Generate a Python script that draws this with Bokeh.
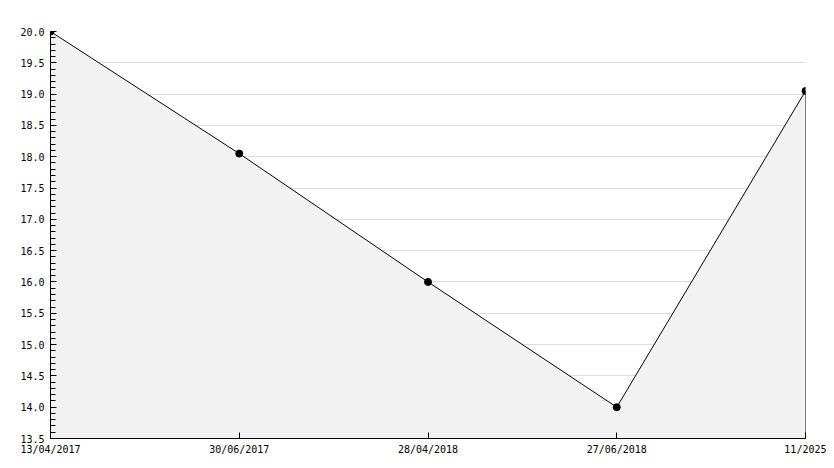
from bokeh.plotting import figure
from bokeh.models import Range1d, FixedTicker, SingleIntervalTicker, PrintfTickFormatter
from bokeh.embed import file_html
from bokeh.resources import INLINE

dates = ["13/04/2017", "30/06/2017", "28/04/2018", "27/06/2018", "11/2025"]
values = [20.0, 18.05, 16.0, 14.0, 19.05]
y_min, y_max = 13.5, 20.0

xs = list(range(len(dates)))

p = figure(width=826, height=460, output_backend="svg", toolbar_location=None,
           x_range=Range1d(0, len(dates) - 1), y_range=Range1d(y_min, y_max),
           min_border_left=50, min_border_right=21, min_border_top=31, min_border_bottom=22)
p.outline_line_color = None
p.background_fill_color = "white"

# area
px = xs + [xs[-1], xs[0]]
py = values + [y_min, y_min]
p.patch(px, py, fill_color="#f2f2f2", line_color="black", line_width=1)
p.scatter(xs, values, size=7, marker="circle", color="black")

font = "DejaVu Sans Mono"

p.xaxis.ticker = FixedTicker(ticks=xs)
p.xaxis.major_label_overrides = {i: d for i, d in enumerate(dates)}
p.yaxis.ticker = SingleIntervalTicker(interval=0.5, num_minor_ticks=5)
p.yaxis.formatter = PrintfTickFormatter(format="%.1f")

for ax in (p.xaxis, p.yaxis):
    ax.axis_line_color = "black"
    ax.major_tick_line_color = "black"
    ax.minor_tick_line_color = "black"
    ax.major_tick_in = 6
    ax.major_tick_out = 0
    ax.minor_tick_in = 5
    ax.minor_tick_out = 0
    ax.major_label_text_font = font
    ax.major_label_text_font_size = "10px"
    ax.major_label_text_color = "black"

p.yaxis.major_label_standoff = 6
p.xaxis.major_label_standoff = 5
p.xaxis.minor_tick_line_color = None
p.xgrid.grid_line_color = None
p.ygrid.grid_line_color = "#dddddd"

open("out.html", "w").write(file_html(p, INLINE))
